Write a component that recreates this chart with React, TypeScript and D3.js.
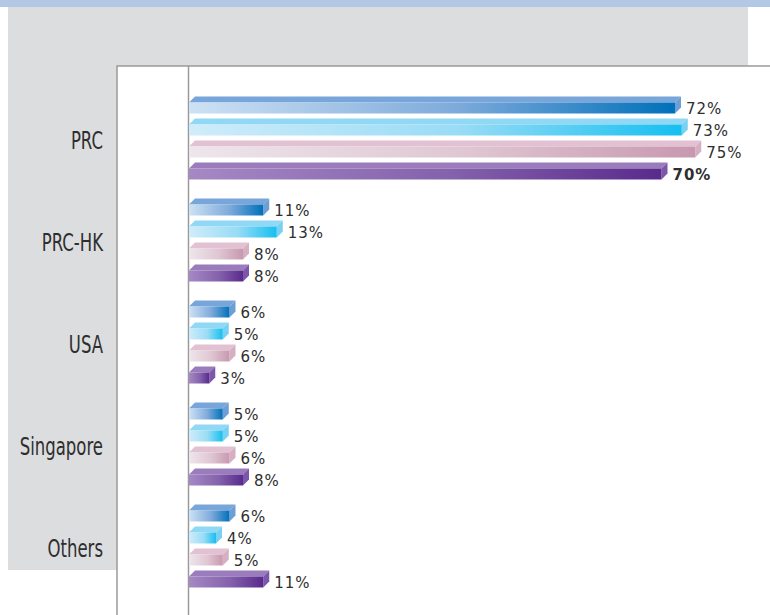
import { useEffect, useRef } from 'react';
import * as d3 from 'd3';

const categories = ['PRC', 'PRC-HK', 'USA', 'Singapore', 'Others'];
const seriesKeys = ['s1', 's2', 's3', 's4'];
const s1Values = [72, 11, 6, 5, 6];
const s2Values = [73, 13, 5, 5, 4];
const s3Values = [75, 8, 6, 6, 5];
const s4Values = [70, 8, 3, 8, 11];
const boldLabels = ['PRC|s4'];

// colour per series: gradient light -> dark, top face, side face
const palette: Record<string, { light: string; mid: string; dark: string; top: string; side: string }> = {
  s1: { light: '#cde2f4', mid: '#7eaadb', dark: '#0070ba', top: '#78a6da', side: '#6d9fd5' },
  s2: { light: '#d0ecfa', mid: '#98dcf6', dark: '#16bff0', top: '#90d8f4', side: '#78d0f2' },
  s3: { light: '#eee6ec', mid: '#dfc6d2', dark: '#c898b0', top: '#e2c2d2', side: '#d6b0c2' },
  s4: { light: '#a688c4', mid: '#8462ac', dark: '#592a8c', top: '#9a7cbc', side: '#7c56aa' },
};

export default function App() {
  const svgRef = useRef<SVGSVGElement>(null);

  useEffect(() => {
    const svg = d3.select(svgRef.current);
    svg.selectAll('*').remove();

    const width = 770;
    const height = 615;
    const depth = 6;
    const barH = 11;

    const table = categories.map((c, i) => ({
      category: c,
      s1: s1Values[i],
      s2: s2Values[i],
      s3: s3Values[i],
      s4: s4Values[i],
    }));

    const x = d3.scaleLinear().domain([0, 100]).range([189, 189 + 675]);
    const y = d3.scaleBand().domain(categories).range([89, 599]).padding(0);
    const inner = d3.scaleBand().domain(seriesKeys).range([-43, 45]).padding(0);

    // gradients
    const defs = svg.append('defs');
    seriesKeys.forEach(k => {
      const g = defs.append('linearGradient').attr('id', `grad-${k}`).attr('x1', 0).attr('x2', 1).attr('y1', 0).attr('y2', 0);
      g.append('stop').attr('offset', '0%').attr('stop-color', palette[k].light);
      g.append('stop').attr('offset', '55%').attr('stop-color', palette[k].mid);
      g.append('stop').attr('offset', '100%').attr('stop-color', palette[k].dark);
    });

    // background
    svg.append('rect').attr('x', 0).attr('y', 0).attr('width', width).attr('height', height).attr('fill', '#fff');
    svg.append('rect').attr('x', 0).attr('y', 0).attr('width', width).attr('height', 7).attr('fill', '#b2c8e4');
    svg.append('rect').attr('x', 8).attr('y', 7).attr('width', 740).attr('height', 563).attr('fill', '#dcdddf');

    // white plot box
    svg.append('rect').attr('x', 117).attr('y', 66).attr('width', width - 117 + 5).attr('height', height).attr('fill', '#fff')
      .attr('stroke', '#9a9a9a').attr('stroke-width', 1.5);
    svg.append('line').attr('x1', 188.5).attr('x2', 188.5).attr('y1', 66).attr('y2', height).attr('stroke', '#9a9a9a').attr('stroke-width', 1.5);

    // category labels (condensed look)
    svg.append('g').selectAll('text').data(categories).enter().append('text')
      .attr('transform', d => `translate(103,${(y(d) ?? 0) + y.bandwidth() / 2 + 9}) scale(0.66,1)`)
      .attr('text-anchor', 'end')
      .attr('font-family', "'DejaVu Sans', sans-serif")
      .attr('font-size', 25)
      .attr('fill', '#2e2e2e')
      .text(d => d);

    const groups = svg.append('g').selectAll('g').data(table).enter().append('g')
      .attr('transform', d => `translate(0,${(y(d.category) ?? 0) + y.bandwidth() / 2})`);

    seriesKeys.forEach(k => {
      const cy = (inner(k) ?? 0) + inner.bandwidth() / 2;
      const yTop = cy - barH / 2;
      const x0 = x(0);

      // top face
      groups.append('path')
        .attr('d', (d: any) => {
          const x1 = x(d[k]);
          return `M${x0},${yTop} L${x0 + depth},${yTop - depth} L${x1 + depth},${yTop - depth} L${x1},${yTop} Z`;
        })
        .attr('fill', palette[k].top);

      // side face
      groups.append('path')
        .attr('d', (d: any) => {
          const x1 = x(d[k]);
          return `M${x1},${yTop} L${x1 + depth},${yTop - depth} L${x1 + depth},${yTop - depth + barH} L${x1},${yTop + barH} Z`;
        })
        .attr('fill', palette[k].side);

      // front face
      groups.append('rect')
        .attr('x', x0)
        .attr('y', yTop)
        .attr('width', (d: any) => x(d[k]) - x0)
        .attr('height', barH)
        .attr('fill', `url(#grad-${k})`);

      // value label
      groups.append('text')
        .attr('x', (d: any) => x(d[k]) + depth + 5)
        .attr('y', cy + 5.5)
        .attr('font-family', "'DejaVu Sans', sans-serif")
        .attr('font-size', 15)
        .attr('letter-spacing', 1)
        .attr('font-weight', (d: any) => (boldLabels.includes(`${d.category}|${k}`) ? 'bold' : 'normal'))
        .attr('fill', '#2e2e2e')
        .text((d: any) => `${d[k]}%`);
    });
  }, []);

  return (
    <div style={{ position: 'absolute', left: 0, top: 0 }}>
      <svg ref={svgRef} width={770} height={615} style={{ display: 'block' }} />
    </div>
  );
}
